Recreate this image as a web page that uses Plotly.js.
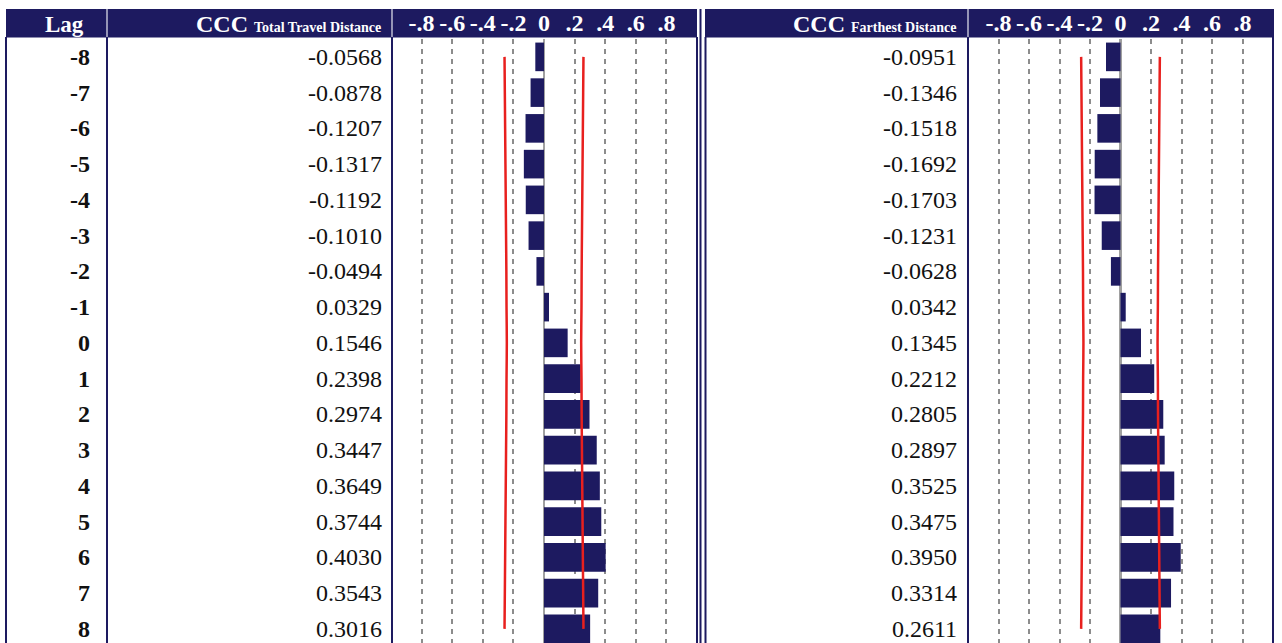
<!DOCTYPE html>
<html>
<head>
<meta charset="utf-8">
<script src="https://cdn.plot.ly/plotly-3.0.1.min.js"></script>
<style>html,body{margin:0;padding:0;background:#fff;}#chart{width:1282px;height:643px;}</style>
</head>
<body>
<div id="chart"></div>
<script>
// ---- data ----
var lags = [-8,-7,-6,-5,-4,-3,-2,-1,0,1,2,3,4,5,6,7,8];
var cccTotal = [-0.0568,-0.0878,-0.1207,-0.1317,-0.1192,-0.1010,-0.0494,0.0329,0.1546,0.2398,0.2974,0.3447,0.3649,0.3744,0.4030,0.3543,0.3016];
var cccFar = [-0.0951,-0.1346,-0.1518,-0.1692,-0.1703,-0.1231,-0.0628,0.0342,0.1345,0.2212,0.2805,0.2897,0.3525,0.3475,0.3950,0.3314,0.2611];
var upperBound = [0.258,0.256,0.254,0.252,0.250,0.248,0.246,0.245,0.243,0.245,0.246,0.248,0.250,0.252,0.254,0.256,0.258];
var lowerBound = [-0.258,-0.256,-0.254,-0.252,-0.250,-0.248,-0.246,-0.245,-0.243,-0.245,-0.246,-0.248,-0.250,-0.252,-0.254,-0.256,-0.258];
var tickVals = [-0.8,-0.6,-0.4,-0.2,0,0.2,0.4,0.6,0.8];
var tickText = ['-.8','-.6','-.4','-.2','0','.2','.4','.6','.8'];
var headerLag = 'Lag';
var headerCCC = 'CCC';
var seriesNames = ['Total Travel Distance','Farthest Distance'];

// ---- layout helpers ----
var W = 1282, H = 643, T = 39, B = 0;
function px(x){ return x / W; }
function py(y){ return (H - y) / (H - T - B); }
var NAVY = '#1d1a60';
var SERIF = 'Liberation Serif, Times New Roman, serif';

var traces = [
  {type:'bar', orientation:'h', x:cccTotal, y:lags, width:0.8, marker:{color:NAVY}, xaxis:'x', yaxis:'y', hoverinfo:'skip'},
  {type:'bar', orientation:'h', x:cccFar, y:lags, width:0.8, marker:{color:NAVY}, xaxis:'x2', yaxis:'y', hoverinfo:'skip'},
  {type:'scatter', mode:'lines', x:lowerBound, y:lags, line:{color:'#e8201e', width:2.5, shape:'spline'}, xaxis:'x', yaxis:'y', hoverinfo:'skip'},
  {type:'scatter', mode:'lines', x:upperBound, y:lags, line:{color:'#e8201e', width:2.5, shape:'spline'}, xaxis:'x', yaxis:'y', hoverinfo:'skip'},
  {type:'scatter', mode:'lines', x:lowerBound, y:lags, line:{color:'#e8201e', width:2.5, shape:'spline'}, xaxis:'x2', yaxis:'y', hoverinfo:'skip'},
  {type:'scatter', mode:'lines', x:upperBound, y:lags, line:{color:'#e8201e', width:2.5, shape:'spline'}, xaxis:'x2', yaxis:'y', hoverinfo:'skip'}
];

var rowPx = 35.75;
var yTop = lags[0] - 0.5;
var yBottom = yTop + (H - T - B) / rowPx;

function xAxis(domain){
  return {
    domain: domain, range:[-1,1], side:'top', anchor:'y',
    tickvals: tickVals, ticktext: tickText, ticks:'',
    tickfont:{family:SERIF, size:24, color:'#ffffff', weight:'bold'},
    showgrid:true, gridcolor:'#8c8c8c', gridwidth:2, griddash:'5px,5px',
    zeroline:true, zerolinecolor:'#a0a0a0', zerolinewidth:2.5,
    showline:false, fixedrange:true, automargin:false, ticklabelstandoff: 2
  };
}

var shapes = [];
// header bands
shapes.push({type:'rect', xref:'paper', yref:'paper', x0:px(6), x1:px(697), y0:py(37.5), y1:py(9), fillcolor:NAVY, line:{width:0}, layer:'below'});
shapes.push({type:'rect', xref:'paper', yref:'paper', x0:px(705), x1:px(1274), y0:py(37.5), y1:py(9), fillcolor:NAVY, line:{width:0}, layer:'below'});
shapes.push({type:'rect', xref:'paper', yref:'paper', x0:px(699.5), x1:px(701.5), y0:py(643), y1:py(9), fillcolor:NAVY, line:{width:0}, layer:'below'});
// white separators in header
[107, 392, 968].forEach(function(x){
  shapes.push({type:'line', xref:'paper', yref:'paper', x0:px(x), x1:px(x), y0:py(37.5), y1:py(9), line:{color:'#e8e8f0', width:1.2}, layer:'below'});
});
// body borders
[6, 107, 392, 697, 705.5, 968, 1273].forEach(function(x){
  shapes.push({type:'line', xref:'paper', yref:'paper', x0:px(x), x1:px(x), y0:py(643), y1:py(37), line:{color:NAVY, width:2}, layer:'above'});
});

var annotations = [];
var hy = py(24);
annotations.push({xref:'paper', yref:'paper', x:px(86), y:hy, xanchor:'right', yanchor:'middle', showarrow:false,
  text:'<b>'+headerLag+'</b>', font:{family:SERIF, size:23, color:'#ffffff'}});
annotations.push({xref:'paper', yref:'paper', x:px(383), y:hy, xanchor:'right', yanchor:'middle', showarrow:false,
  text:'<b>'+headerCCC+' <span style="font-size:14px">'+seriesNames[0]+'</span></b>', font:{family:SERIF, size:24, color:'#ffffff'}});
annotations.push({xref:'paper', yref:'paper', x:px(958), y:hy, xanchor:'right', yanchor:'middle', showarrow:false,
  text:'<b>'+headerCCC+' <span style="font-size:14px">'+seriesNames[1]+'</span></b>', font:{family:SERIF, size:24, color:'#ffffff'}});

lags.forEach(function(l, i){
  annotations.push({xref:'paper', yref:'y', x:px(92), y:l, xanchor:'right', yanchor:'middle', showarrow:false,
    text:'<b>'+l+'</b>', font:{family:SERIF, size:24, color:'#111111'}});
  annotations.push({xref:'paper', yref:'y', x:px(384), y:l, xanchor:'right', yanchor:'middle', showarrow:false,
    text:cccTotal[i].toFixed(4), font:{family:SERIF, size:24, color:'#111111'}});
  annotations.push({xref:'paper', yref:'y', x:px(959), y:l, xanchor:'right', yanchor:'middle', showarrow:false,
    text:cccFar[i].toFixed(4), font:{family:SERIF, size:24, color:'#111111'}});
});

var layout = {
  width: W, height: H,
  margin:{l:0, r:0, t:T, b:B, pad:0},
  paper_bgcolor:'#ffffff', plot_bgcolor:'rgba(0,0,0,0)',
  showlegend:false, barmode:'overlay',
  xaxis: xAxis([px(391), px(697)]),
  xaxis2: xAxis([px(968), px(1273)]),
  yaxis:{range:[yBottom, yTop], showticklabels:false, showgrid:false, zeroline:false, ticks:'', fixedrange:true, domain:[0,1]},
  shapes: shapes,
  annotations: annotations
};

Plotly.newPlot('chart', traces, layout, {staticPlot:true, displayModeBar:false});
</script>
</body>
</html>
